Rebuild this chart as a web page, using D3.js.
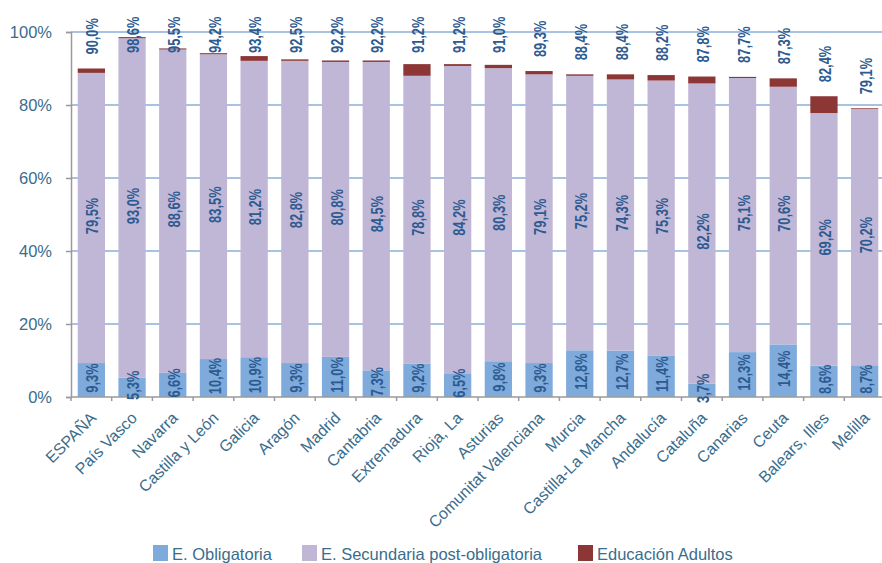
<!DOCTYPE html>
<html>
<head>
<meta charset="utf-8">
<script src="https://cdn.jsdelivr.net/npm/d3@7"></script>
<style>
  body { margin: 0; background: #fff; }
  #chart { width: 882px; height: 563px; overflow: hidden; }
</style>
</head>
<body>
<div id="chart"></div>
<script>
const regions = ["ESPAÑA", "País Vasco", "Navarra", "Castilla y León", "Galicia", "Aragón",
    "Madrid", "Cantabria", "Extremadura", "Rioja, La", "Asturias", "Comunitat Valenciana",
    "Murcia", "Castilla-La Mancha", "Andalucía", "Cataluña", "Canarias", "Ceuta",
    "Balears, Illes", "Melilla"];

const obligatoria = [9.3, 5.3, 6.6, 10.4, 10.9, 9.3, 11.0, 7.3, 9.2, 6.5, 9.8, 9.3,
    12.8, 12.7, 11.4, 3.7, 12.3, 14.4, 8.6, 8.7];
const secundaria = [79.5, 93.0, 88.6, 83.5, 81.2, 82.8, 80.8, 84.5, 78.8, 84.2, 80.3, 79.1,
    75.2, 74.3, 75.3, 82.2, 75.1, 70.6, 69.2, 70.2];
const adultos = [1.2, 0.3, 0.3, 0.3, 1.3, 0.4, 0.4, 0.4, 3.2, 0.5, 0.9, 0.9,
    0.4, 1.4, 1.5, 1.9, 0.3, 2.3, 4.6, 0.2];
const totals = [90.0, 98.6, 95.5, 94.2, 93.4, 92.5, 92.2, 92.2, 91.2, 91.2, 91.0, 89.3,
    88.4, 88.4, 88.2, 87.8, 87.7, 87.3, 82.4, 79.1];

const seriesNames = ["E. Obligatoria", "E. Secundaria post-obligatoria", "Educación Adultos"];
const yTicks = [0, 20, 40, 60, 80, 100];

const width = 882;
const height = 563;
const margin = { top: 32, right: -3, bottom: 166, left: 71 };

const color = d3.scaleOrdinal()
    .domain(seriesNames)
    .range(["#7eaadc", "#c0b6d6", "#8c3636"]);

const fmt = v => d3.format(".1f")(v).replace(".", ",") + "%";

const rows = regions.map((r, i) => ({
    region: r,
    [seriesNames[0]]: obligatoria[i],
    [seriesNames[1]]: secundaria[i],
    [seriesNames[2]]: adultos[i],
    total: totals[i]
}));

const stack = d3.stack().keys(seriesNames);
const stacked = stack(rows);

const x = d3.scaleBand()
    .domain(regions)
    .range([margin.left, width - margin.right])
    .paddingInner(0.33)
    .paddingOuter(0.165);

const y = d3.scaleLinear()
    .domain([0, 100])
    .range([height - margin.bottom, margin.top]);

const svg = d3.select("#chart")
    .append("svg")
    .attr("width", width)
    .attr("height", height)
    .style("font-family", "'Liberation Sans', Arial, sans-serif");

// --- gridlines ---
svg.append("g")
    .selectAll("line")
    .data(yTicks.filter(t => t > 0))
    .enter()
    .append("line")
    .attr("x1", margin.left)
    .attr("x2", width)
    .attr("y1", d => y(d))
    .attr("y2", d => y(d))
    .style("stroke", "#a8c2e2")
    .style("stroke-width", 2);

// --- bars ---
const layer = svg.append("g")
    .selectAll("g")
    .data(stacked)
    .enter()
    .append("g")
    .attr("fill", d => color(d.key));

layer.selectAll("rect")
    .data(d => d)
    .enter()
    .append("rect")
    .attr("x", d => x(d.data.region))
    .attr("width", x.bandwidth())
    .attr("y", d => y(d[1]))
    .attr("height", d => y(d[0]) - y(d[1]));

// --- axes ---
const yAxis = svg.append("g")
    .attr("transform", `translate(${margin.left},0)`)
    .call(d3.axisLeft(y).tickValues(yTicks).tickFormat(d => d + "%").tickSize(5).tickPadding(14));
yAxis.select(".domain").style("stroke", "#9a9a9a").style("stroke-width", 1.5);
yAxis.selectAll(".tick line").style("stroke", "#9a9a9a").style("stroke-width", 1.5);
yAxis.selectAll(".tick text")
    .style("font-family", "'Liberation Sans', Arial, sans-serif")
    .style("font-size", "16.5px")
    .style("fill", "#3a6d8c");

const base = y(0);
const xAxis = svg.append("g");
xAxis.append("line")
    .attr("x1", margin.left)
    .attr("x2", width)
    .attr("y1", base)
    .attr("y2", base)
    .style("stroke", "#9a9a9a")
    .style("stroke-width", 1.5);

const step = x.step();
xAxis.selectAll(".xtick")
    .data(d3.range(regions.length + 1))
    .enter()
    .append("line")
    .attr("class", "xtick")
    .attr("x1", i => margin.left + i * step)
    .attr("x2", i => margin.left + i * step)
    .attr("y1", base)
    .attr("y2", base + 4)
    .style("stroke", "#9a9a9a")
    .style("stroke-width", 1.5);

xAxis.selectAll(".xlabel")
    .data(regions)
    .enter()
    .append("text")
    .attr("class", "xlabel")
    .attr("text-anchor", "end")
    .attr("transform", d => `translate(${x(d) + x.bandwidth() / 2 + 6},${base + 22}) rotate(-45)`)
    .style("font-size", "16px")
    .style("fill", "#3a6d8c")
    .text(d => d);

// --- value labels ---
// labels in the original use a narrower bold face, so squeeze along the reading direction
const labelFont = "bold 16.5px 'Liberation Sans', Arial, sans-serif";
const labelColor = "#2d5a90";
const squeeze = 0.78;

stacked.slice(0, 2).forEach(s => {
    svg.append("g")
        .selectAll("text")
        .data(s)
        .enter()
        .append("text")
        .attr("text-anchor", "middle")
        .attr("dominant-baseline", "central")
        .attr("transform", d => `translate(${x(d.data.region) + x.bandwidth() / 2 + 1.5},${(y(d[0]) + y(d[1])) / 2 - 2}) rotate(-90) scale(${squeeze},1)`)
        .style("font", labelFont)
        .style("fill", labelColor)
        .text(d => fmt(d[1] - d[0]));
});

svg.append("g")
    .selectAll("text")
    .data(rows)
    .enter()
    .append("text")
    .attr("text-anchor", "start")
    .attr("dominant-baseline", "central")
    .attr("transform", d => `translate(${x(d.region) + x.bandwidth() / 2 + 1.5},${Math.max(53, y(d.total) - 14)}) rotate(-90) scale(${squeeze},1)`)
    .style("font", labelFont)
    .style("fill", labelColor)
    .text(d => fmt(d.total));

// --- legend ---
const legendX = [153, 302, 578];
const legend = svg.append("g")
    .selectAll("g")
    .data(seriesNames)
    .enter()
    .append("g")
    .attr("transform", (d, i) => `translate(${legendX[i]},545)`);

legend.append("rect")
    .attr("width", 15)
    .attr("height", 16)
    .attr("fill", d => color(d));

legend.append("text")
    .attr("x", 19)
    .attr("y", 14.5)
    .style("font-size", "16.5px")
    .style("fill", "#3a6d8c")
    .text(d => d);
</script>
</body>
</html>
